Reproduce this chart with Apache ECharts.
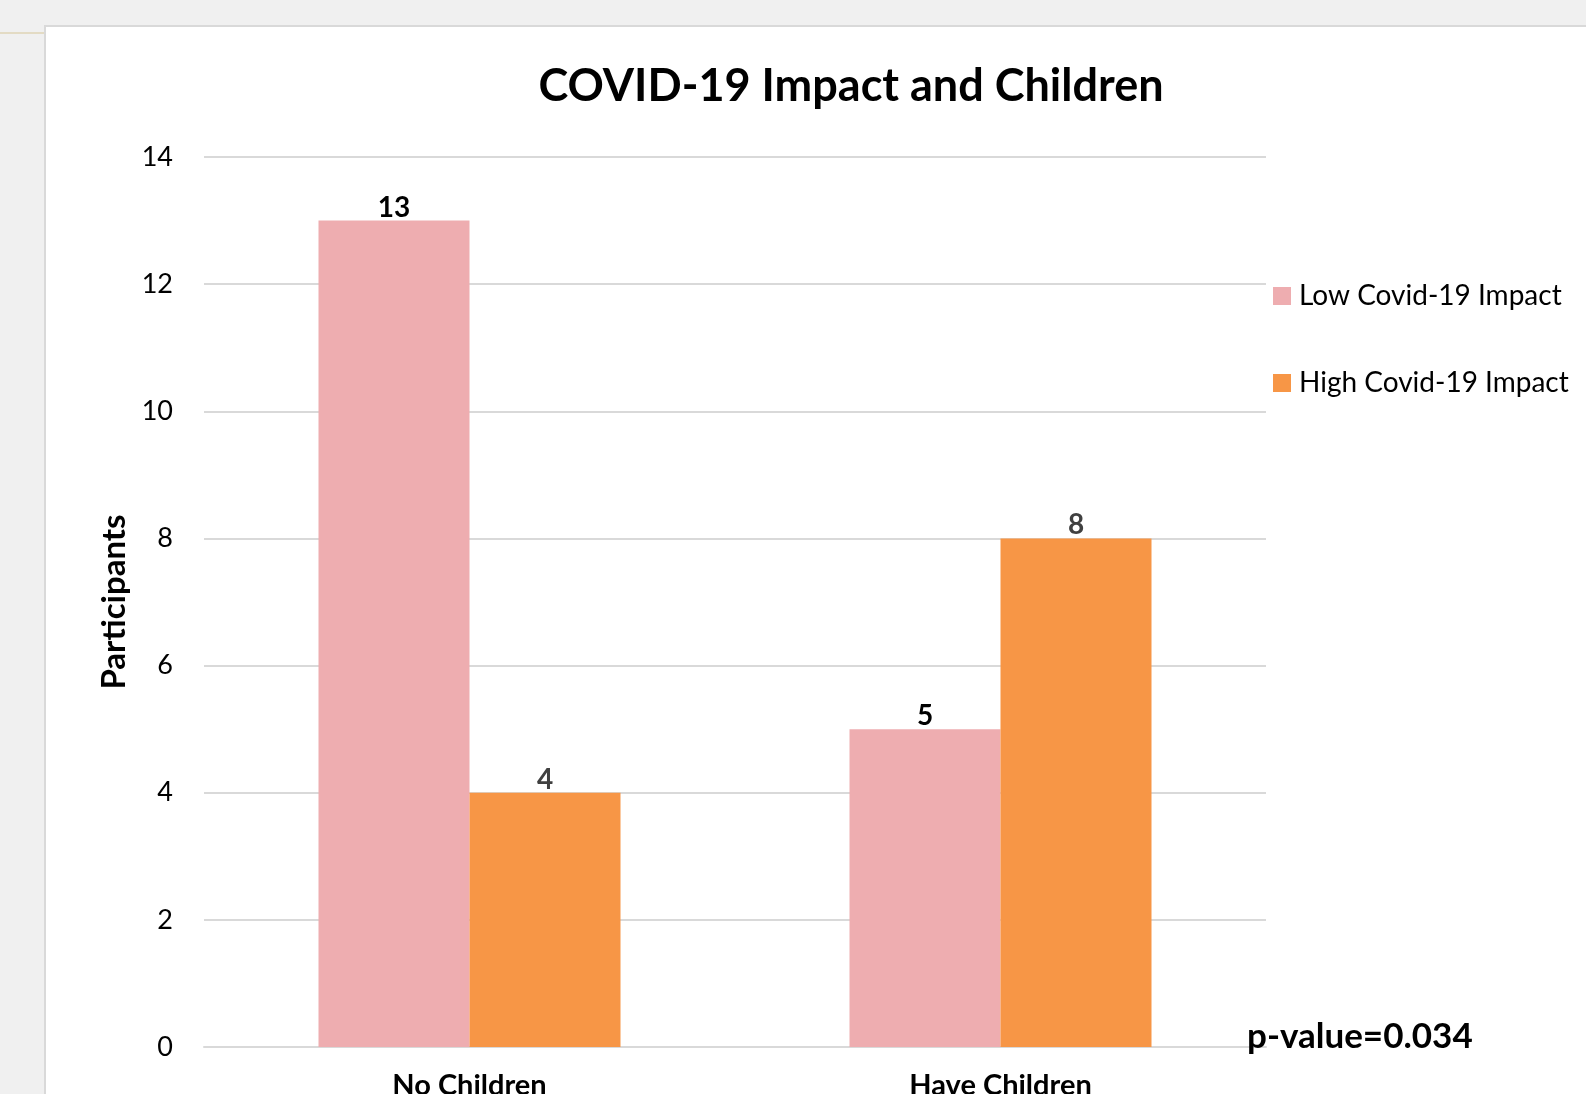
<!DOCTYPE html>
<html>
<head>
<meta charset="utf-8">
<script src="https://cdn.jsdelivr.net/npm/echarts@6/dist/echarts.min.js"></script>
<style>
  html, body { margin: 0; padding: 0; background: #f0f0f0; }
  #chart { width: 1586px; height: 1094px; }
</style>
</head>
<body>
<div id="chart"></div>
<script>
// Participants grouped by whether they have children
const categories = ['No Children', 'Have Children'];
const seriesNames = ['Low Covid-19 Impact', 'High Covid-19 Impact'];
const lowImpact = [13, 5];
const highImpact = [4, 8];
const yTicks = { min: 0, max: 14, interval: 2 };
const pValueText = 'p-value=0.034';

const FONT = 'Lato, "Open Sans", "Noto Sans", sans-serif';

const chart = echarts.init(document.getElementById('chart'));

chart.setOption({
  backgroundColor: 'transparent',
  animation: false,
  graphic: [
    {
      type: 'rect',
      z: -10,
      shape: { x: 45, y: 26, width: 1600, height: 1120 },
      style: { fill: '#ffffff', stroke: '#d9d9d9', lineWidth: 2 }
    },
    {
      type: 'line',
      z: -10,
      shape: { x1: 0, y1: 33, x2: 44, y2: 33 },
      style: { stroke: '#e3dbc4', lineWidth: 2 }
    },
    {
      type: 'text',
      z: 100,
      left: 1247,
      top: 1019,
      style: {
        text: pValueText,
        font: 'bold 35px ' + FONT,
        fill: '#000000'
      }
    }
  ],
  title: {
    text: 'COVID-19 Impact and Children',
    left: 846,
    top: 59,
    textAlign: 'center',
    textStyle: {
      fontFamily: FONT,
      fontWeight: 'bold',
      fontSize: 45,
      color: '#000000'
    }
  },
  legend: {
    orient: 'vertical',
    left: 1273,
    top: 282,
    itemWidth: 18,
    itemHeight: 18,
    itemGap: 59,
    icon: 'rect',
    padding: 0,
    data: seriesNames,
    textStyle: {
      fontFamily: FONT,
      fontSize: 28,
      lineHeight: 28,
      color: '#000000',
      padding: [0, 0, 0, 3]
    }
  },
  grid: {
    left: 204,
    right: 320,
    top: 157,
    bottom: 47,
    containLabel: false,
    outerBoundsMode: 'none'
  },
  xAxis: {
    type: 'category',
    data: categories,
    axisTick: { show: false },
    axisLine: { show: true, lineStyle: { color: '#d9d9d9', width: 2 } },
    axisLabel: {
      margin: 24,
      fontFamily: FONT,
      fontWeight: 'bold',
      fontSize: 29,
      color: '#000000'
    }
  },
  yAxis: {
    type: 'value',
    min: yTicks.min,
    max: yTicks.max,
    interval: yTicks.interval,
    name: 'Participants',
    nameLocation: 'middle',
    nameGap: 73,
    nameTextStyle: {
      fontFamily: FONT,
      fontWeight: 'bold',
      fontSize: 33,
      color: '#000000'
    },
    axisLine: { show: false },
    axisTick: { show: false },
    splitLine: { lineStyle: { color: '#d9d9d9', width: 2 } },
    axisLabel: {
      margin: 31,
      fontFamily: FONT,
      fontSize: 27,
      color: '#000000'
    }
  },
  series: [
    {
      name: seriesNames[0],
      type: 'bar',
      data: lowImpact,
      barWidth: 151,
      barGap: '0%',
      itemStyle: { color: '#eeadb0' },
      label: {
        show: true,
        position: 'top',
        distance: -1,
        fontFamily: FONT,
        fontWeight: 'bold',
        fontSize: 28,
        color: '#000000'
      }
    },
    {
      name: seriesNames[1],
      type: 'bar',
      data: highImpact,
      barWidth: 151,
      barGap: '0%',
      itemStyle: { color: '#f79646' },
      label: {
        show: true,
        position: 'top',
        distance: -1,
        fontFamily: FONT,
        fontWeight: 'bold',
        fontSize: 28,
        color: '#404040'
      }
    }
  ]
});
</script>
</body>
</html>
